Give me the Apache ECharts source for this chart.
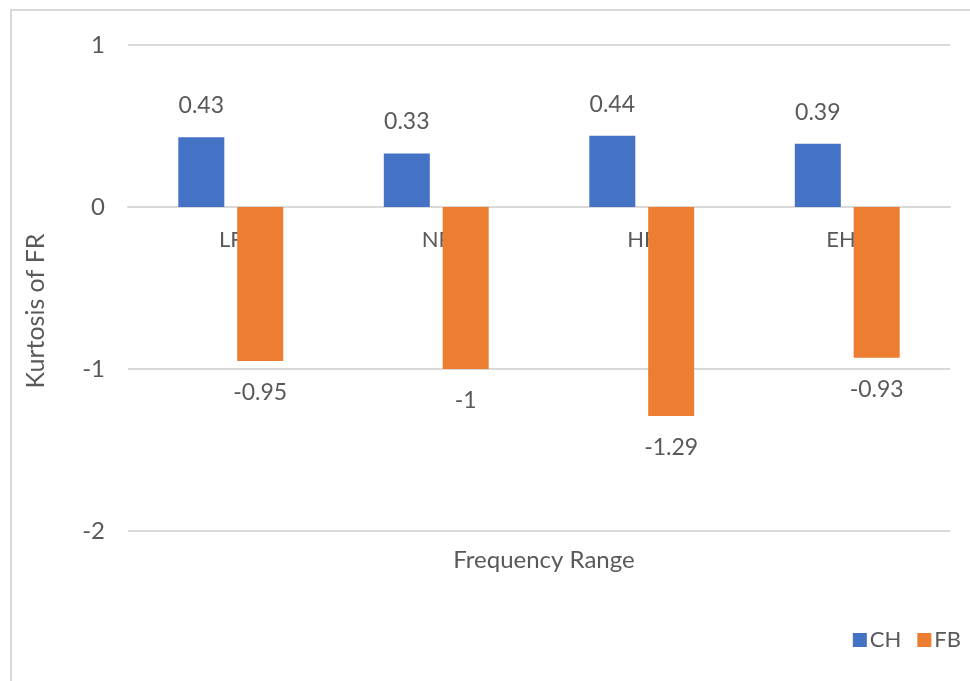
<!DOCTYPE html>
<html><head><meta charset="utf-8">
<script src="https://cdn.jsdelivr.net/npm/echarts@6/dist/echarts.min.js"></script>
<style>html,body{margin:0;padding:0;background:#fff}#c{width:970px;height:681px}</style>
</head><body><div id="c"></div>
<script>
const categories = ['LF', 'NF', 'HF', 'EHF'];
const chValues = [0.43, 0.33, 0.44, 0.39];
const fbValues = [-0.95, -1, -1.29, -0.93];
const seriesNames = ['CH', 'FB'];
const yTicks = { min: -2, max: 1, interval: 1 };

const FONT = 'Lato';
const TXT = '#595959';
const gridTop = 45, gridBottom = 150, chartH = 681;
const plotH = chartH - gridTop - gridBottom;
// pixel distance from the bottom of the plot to the zero line
const zeroOffset = plotH * (0 - yTicks.min) / (yTicks.max - yTicks.min);

const chart = echarts.init(document.getElementById('c'));
chart.setOption({
  animation: false,
  backgroundColor: '#fff',
  textStyle: { fontFamily: FONT },
  graphic: [{
    type: 'rect', shape: { x: 11, y: 10, width: 1000, height: 720 },
    style: { fill: 'none', stroke: '#d9d9d9', lineWidth: 2 }, z: -1
  }],
  title: {
    text: 'Frequency Range', left: 539, top: 543, textAlign: 'center',
    textStyle: { fontFamily: FONT, fontSize: 24, fontWeight: 'normal', color: TXT }
  },
  grid: { left: 128, right: 20, top: gridTop, bottom: gridBottom },
  legend: {
    data: seriesNames, right: 4, top: 624, itemWidth: 14, itemHeight: 14, itemGap: 16,
    icon: 'rect', textStyle: { fontFamily: FONT, fontSize: 22, color: TXT, padding: [0, 0, 0, -2] }
  },
  xAxis: {
    type: 'category', data: categories, position: 'bottom', offset: -zeroOffset,
    axisLine: { onZero: false, lineStyle: { color: '#d9d9d9', width: 2 } },
    axisTick: { show: false },
    axisLabel: { fontFamily: FONT, fontSize: 22, color: TXT, margin: 22 },
    z: 0
  },
  yAxis: {
    type: 'value', min: yTicks.min, max: yTicks.max, interval: yTicks.interval,
    axisLine: { show: false }, axisTick: { show: false },
    splitLine: { lineStyle: { color: '#d9d9d9', width: 2 } },
    axisLabel: { fontFamily: FONT, fontSize: 24, color: TXT, margin: 23 },
    name: 'Kurtosis of FR', nameLocation: 'middle', nameGap: 80,
    nameTextStyle: { fontFamily: FONT, fontSize: 25, color: TXT, padding: [0, 46, 0, 0] }
  },
  series: [{
    name: seriesNames[0], type: 'bar', data: chValues,
    itemStyle: { color: '#4472C4' }, barWidth: 46, barGap: '28%',
    label: { show: true, position: 'top', distance: 20, fontFamily: FONT, fontSize: 23, color: TXT },
    z: 2
  }, {
    name: seriesNames[1], type: 'bar', data: fbValues,
    itemStyle: { color: '#ED7D31' }, barWidth: 46,
    label: { show: true, position: 'bottom', distance: 20, fontFamily: FONT, fontSize: 23, color: TXT },
    z: 2
  }]
});
</script></body></html>
